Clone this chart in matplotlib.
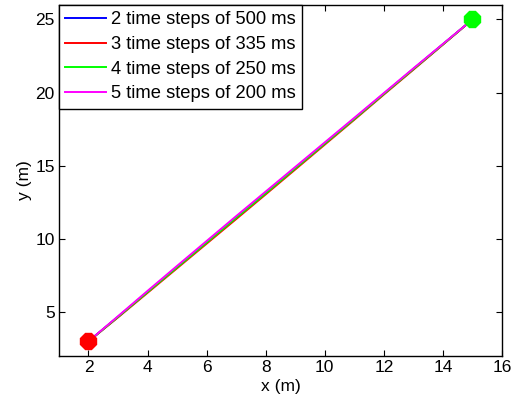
import matplotlib.pyplot as plt

plt.rcParams['font.family'] = ['Liberation Sans', 'DejaVu Sans']

# trajectories
x_pts = [2, 3, 4, 5, 6, 7, 8, 9, 10, 11, 12, 13, 14, 15]
y_500 = [3, 4.68, 6.38, 8.08, 9.78, 11.47, 13.15, 14.84, 16.53, 18.22, 19.92, 21.62, 23.31, 25]
y_335 = [3, 4.64, 6.32, 8.0, 9.68, 11.36, 13.05, 14.75, 16.45, 18.15, 19.87, 21.57, 23.28, 25]
y_250 = [3, 4.67, 6.37, 8.06, 9.75, 11.44, 13.12, 14.82, 16.51, 18.2, 19.91, 21.61, 23.3, 25]
y_200 = [3, 4.72, 6.45, 8.16, 9.86, 11.56, 13.24, 14.92, 16.6, 18.28, 19.97, 21.66, 23.33, 25]

labels = ['2 time steps of 500 ms', '3 time steps of 335 ms',
          '4 time steps of 250 ms', '5 time steps of 200 ms']
colors = ['#0000ff', '#ff0000', '#00ff00', '#ff00ff']

start = (2, 3)
goal = (15, 25)

fig = plt.figure(figsize=(5.17, 4.05), dpi=100)
ax = fig.add_axes([0.114, 0.121, 0.857, 0.867])

for ys, lab, c in zip([y_500, y_335, y_250, y_200], labels, colors):
    ax.plot(x_pts, ys, color=c, linewidth=1.4, label=lab)

ax.plot(*start, marker='8', color='#ff0000', markersize=12, linestyle='none')
ax.plot(*goal, marker='8', color='#00ff00', markersize=12, linestyle='none')

ax.set_xlim(1, 16)
ax.set_ylim(2, 26)
ax.set_xticks([2, 4, 6, 8, 10, 12, 14, 16])
ax.set_yticks([5, 10, 15, 20, 25])
ax.tick_params(direction='in', top=True, right=True, labelsize=12.5, length=4, pad=3)
for s in ax.spines.values():
    s.set_linewidth(1.0)

ax.set_xlabel('x (m)', fontsize=12.5, labelpad=3)
ax.set_ylabel('y (m)', fontsize=12.5, labelpad=2)

leg = ax.legend(loc='upper left', fontsize=13.2, fancybox=False, framealpha=1,
                edgecolor='black', borderaxespad=0, handlelength=2.2,
                handletextpad=0.3, labelspacing=0.42, borderpad=0.35)
leg.get_frame().set_linewidth(1.0)

fig.savefig('out.png', dpi=100)
